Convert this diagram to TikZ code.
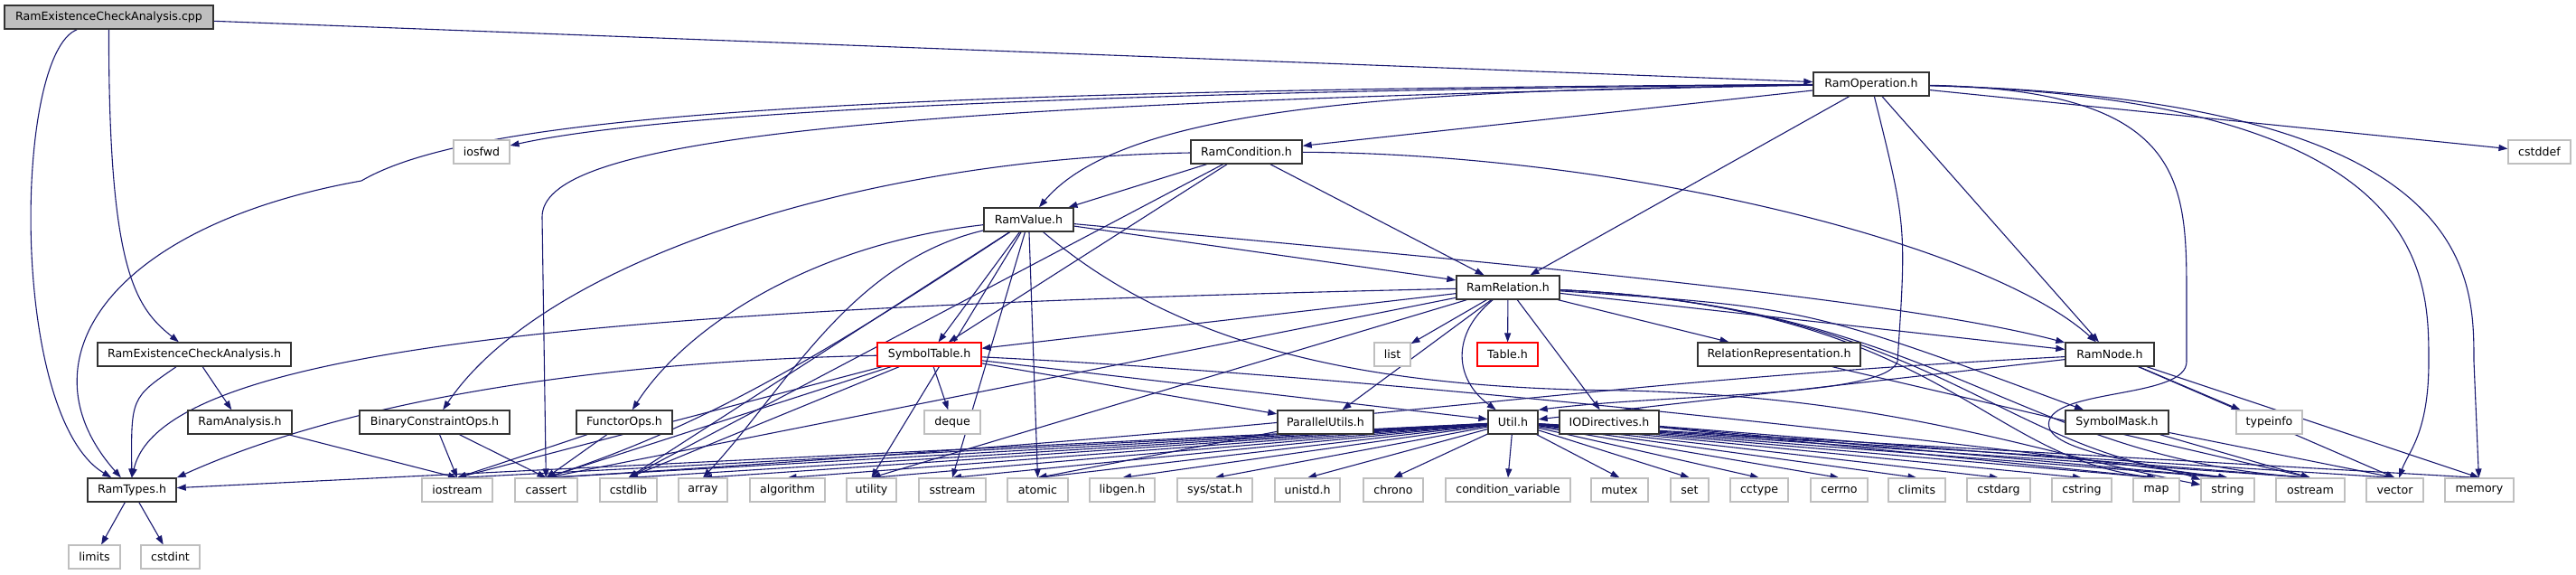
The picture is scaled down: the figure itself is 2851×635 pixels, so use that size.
\documentclass[tikz,border=0pt]{standalone}
\usepackage{fontspec}
\setmainfont{DejaVu Sans}
\usetikzlibrary{arrows.meta,backgrounds}
\definecolor{bleunuit}{HTML}{191970}
\definecolor{grisclair}{HTML}{BFBFBF}

\begin{document}
\begin{tikzpicture}[x=1pt,y=-1pt,
    boite/.style={draw,fill=white,minimum height=26pt,inner sep=0pt,
        font=\fontsize{12.6pt}{15pt}\selectfont},
    entete/.style={boite,draw=black!80,line width=1.4pt},
    rouge/.style={boite,draw=red,line width=1.1pt},
    systeme/.style={boite,draw=grisclair,line width=1.1pt},
    lien/.style={bleunuit,line width=1.1pt,-{Triangle[length=10pt,width=7pt]}}]
    \useasboundingbox (0,0) rectangle (2851,635);

    % Fichier analyse
    \node[entete,fill=grisclair,minimum width=231pt] (cpp) at (120.5,19) {RamExistenceCheckAnalysis.cpp};

    % En-tetes du projet
    \node[entete,minimum width=128pt] (op) at (2071,93) {RamOperation.h};
    \node[entete,minimum width=123pt] (cond) at (1379.5,168) {RamCondition.h};
    \node[entete,minimum width=99pt] (val) at (1138.5,243) {RamValue.h};
    \node[entete,minimum width=114pt] (rel) at (1669,318) {RamRelation.h};
    \node[entete,minimum width=214pt] (recah) at (215,392) {RamExistenceCheckAnalysis.h};
    \node[rouge,minimum width=115pt] (symtab) at (1028.5,392) {SymbolTable.h};
    \node[rouge,minimum width=67pt] (table) at (1668.5,392) {Table.h};
    \node[entete,minimum width=180pt] (relrep) at (1969,392) {RelationRepresentation.h};
    \node[entete,minimum width=98pt] (noeud) at (2335,392) {RamNode.h};
    \node[entete,minimum width=115pt] (ana) at (265.5,467) {RamAnalysis.h};
    \node[entete,minimum width=166pt] (bco) at (481,467) {BinaryConstraintOps.h};
    \node[entete,minimum width=106pt] (fops) at (691,467) {FunctorOps.h};
    \node[entete,minimum width=106pt] (par) at (1467,467) {ParallelUtils.h};
    \node[entete,minimum width=55pt] (util) at (1674.5,467) {Util.h};
    \node[entete,minimum width=110pt] (iod) at (1781,467) {IODirectives.h};
    \node[entete,minimum width=114pt] (smask) at (2343,467) {SymbolMask.h};
    \node[entete,minimum width=98pt] (types) at (146,542) {RamTypes.h};

    % En-tetes systeme
    \node[systeme,minimum width=62pt] (iosfwd) at (533,168) {iosfwd};
    \node[systeme,minimum width=69pt] (cstddef) at (2810.5,168) {cstddef};
    \node[systeme,minimum width=40pt] (list) at (1541,392) {list};
    \node[systeme,minimum width=62pt] (deque) at (1054,467) {deque};
    \node[systeme,minimum width=73pt] (typeinfo) at (2511.5,467) {typeinfo};
    \node[systeme,minimum width=57pt] (limits) at (104.5,616) {limits};
    \node[systeme,minimum width=65pt] (cstdint) at (188.5,616) {cstdint};
    \foreach \nom/\x/\l/\txt in {iostream/506/78/iostream, cassert/604.5/69/cassert,
        cstdlib/695.5/63/cstdlib, array/778/54/array, algorithm/871.5/83/algorithm,
        utility/964.5/55/utility, sstream/1054/74/sstream, atomic/1148.5/67/atomic,
        libgen/1242/72/libgen.h, sysstat/1344.5/83/{sys/stat.h}, unistd/1447/72/unistd.h,
        chrono/1542/66/chrono, condvar/1669/138/condition\_variable, mutex/1792.5/63/mutex,
        set/1870/42/set, cctype/1947/64/cctype, cerrno/2035.5/63/cerrno,
        climits/2121.5/63/climits, cstdarg/2212/70/cstdarg, cstring/2304/66/cstring,
        map/2386.5/51/map, string/2465.5/59/string, ostream/2557/76/ostream,
        vector/2650.5/63/vector, memory/2744/76/memory}
        \node[systeme,minimum width=\l pt] (\nom) at (\x,542) {\txt};

    % Liens d'inclusion
    \begin{scope}[on background layer]
        \foreach \a/\b in {cpp/op, recah/ana, op/cond, op/cstddef, op/rel, op/noeud,
            cond/val, cond/rel, cond/symtab, val/rel, val/symtab, rel/symtab, rel/list,
            rel/table, rel/par, rel/iod, rel/relrep, rel/noeud, symtab/deque, symtab/par,
            symtab/util, noeud/util, noeud/typeinfo, types/limits, types/cstdint, util/types}
            \draw[lien] (\a) -- (\b);
        \foreach \a/\b in {ana/iostream, bco/iostream, bco/cassert, fops/iostream,
            fops/cassert, symtab/iostream, symtab/cassert, symtab/cstdlib, val/cstdlib,
            val/utility, val/sstream, val/atomic, cond/cstdlib, rel/cassert, rel/utility,
            par/atomic, iod/map, iod/string, iod/ostream, smask/ostream, smask/vector,
            relrep/ostream, noeud/vector, noeud/memory, util/iostream, util/cassert,
            util/cstdlib, util/array, util/algorithm, util/utility, util/sstream,
            util/atomic, util/libgen, util/sysstat, util/unistd, util/chrono,
            util/condvar, util/mutex, util/set, util/cctype, util/cerrno, util/climits,
            util/cstdarg, util/cstring, util/map, util/string, util/ostream,
            util/vector, util/memory}
            \draw[lien] (\a) -- (\b.north);
        \foreach \b/\cx in {map/2190, string/2210, ostream/2230}
            \draw[lien] (rel) .. controls (2150,340) and (\cx,505) .. (\b.north);

        % grands arcs
        \draw[lien] (cpp) .. controls (120,300) and (150,340) .. (recah);
        \draw[lien] (cpp) .. controls (15,60) and (10,460) .. (types);
        \draw[lien] (recah) .. controls (145,440) .. (types);
        \draw[lien] (op) .. controls (900,100) and (520,130) .. (400,200)
            .. controls (120,250) and (20,400) .. (types);
        \draw[lien] (op) .. controls (1300,100) and (750,120) .. (iosfwd);
        \draw[lien] (op) .. controls (900,115) and (600,160) .. (600,240) -- (cassert);
        \draw[lien] (op) .. controls (1600,100) and (1250,110) .. (val);
        \draw[lien] (op) .. controls (2110,250) .. (2100,400)
            .. controls (2085,440) and (1850,435) .. (util.north east);
        \draw[lien] (op) .. controls (2420,100) and (2420,200) .. (2420,330) -- (2420,400)
            .. controls (2420,440) and (2280,430) .. (2268,465)
            .. controls (2258,500) and (2380,510) .. (string);
        \draw[lien] (op) .. controls (2688,110) and (2688,300) .. (2688,400)
            .. controls (2688,480) and (2665,500) .. (vector);
        \draw[lien] (op) .. controls (2738,110) and (2738,300) .. (2738,400) -- (memory);
        \draw[lien] (cond) .. controls (950,175) and (600,290) .. (bco);
        \draw[lien] (cond) .. controls (1800,170) and (2200,270) .. (noeud);
        \draw[lien] (val) .. controls (1650,290) and (2100,330) .. (noeud);
        \draw[lien] (val) .. controls (900,270) and (760,360) .. (fops);
        \draw[lien] (val) .. controls (940,290) and (870,430) .. (array.north);
        \draw[lien] (val) .. controls (900,400) and (780,470) .. (cassert.north);
        \draw[lien] (val) .. controls (1300,380) and (1500,430) .. (1800,432)
            .. controls (2100,440) and (2250,500) .. (string);
        \draw[lien] (rel) .. controls (1605,370) and (1610,420) .. (util);
        \draw[lien] (rel) .. controls (700,340) and (180,380) .. (types.north);
        \draw[lien] (rel) .. controls (2000,340) .. (smask);
        \draw[lien] (symtab) .. controls (650,400) and (380,445) .. (types.north east);
        \draw[lien] (symtab) .. controls (1600,420) and (2250,500) .. (string.north);
        \draw[lien] (noeud) .. controls (1700,425) and (1560,470) .. (cassert.north);
    \end{scope}
\end{tikzpicture}
\end{document}
